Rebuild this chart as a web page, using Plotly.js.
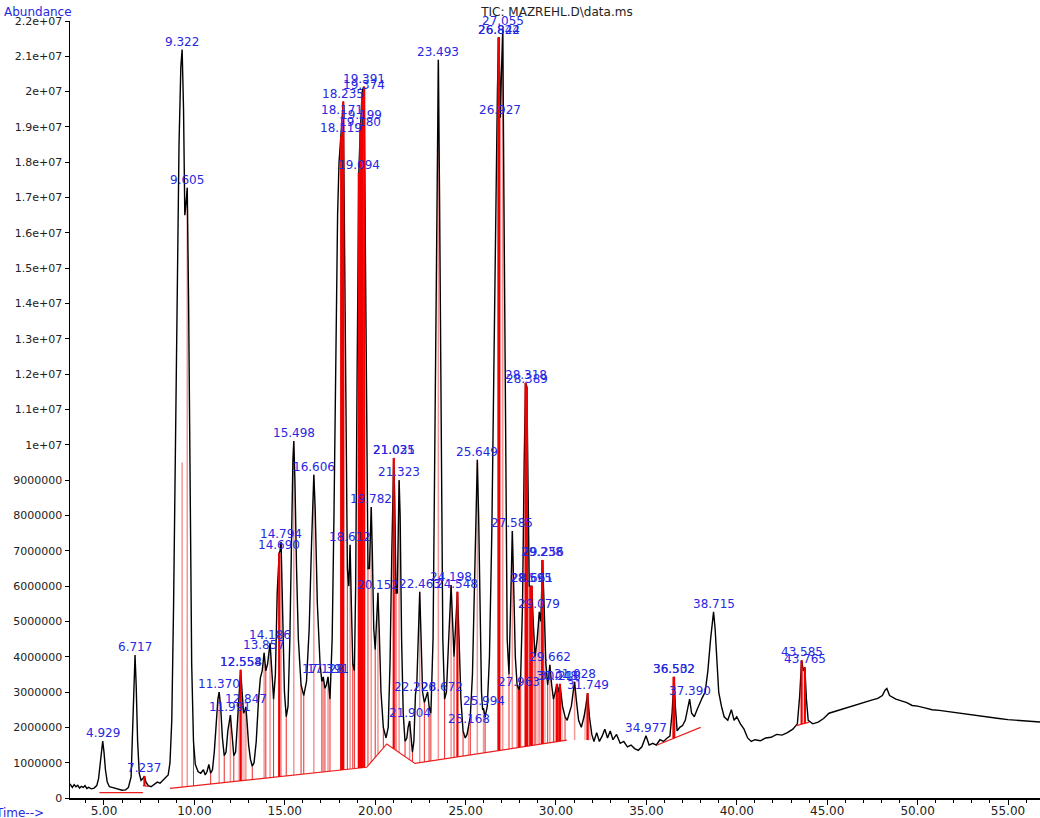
<!DOCTYPE html>
<html>
<head>
<meta charset="utf-8">
<script src="https://cdn.plot.ly/plotly-3.0.1.min.js"></script>
<style>
html,body{margin:0;padding:0;background:#fff;}
#chart{width:1040px;height:818px;}
</style>
</head>
<body>
<div id="chart"></div>
<script>
// Retention time (min) and total ion current (abundance, millions)
const rtTime = [3.12,3.25,3.35,3.45,3.55,3.65,3.75,3.85,3.95,4.05,4.15,4.30,4.45,4.60,4.70,4.80,4.88,4.929,5.00,5.08,5.18,5.30,5.45,5.60,5.80,6.00,6.20,6.35,6.50,6.60,6.68,6.717,6.78,6.86,6.95,7.05,7.15,7.237,7.32,7.45,7.60,7.80,7.95,8.10,8.25,8.40,8.55,8.65,8.75,8.85,8.95,9.05,9.15,9.25,9.322,9.40,9.47,9.53,9.605,9.68,9.76,9.85,9.95,10.05,10.20,10.35,10.50,10.60,10.70,10.80,10.90,11.00,11.10,11.22,11.30,11.370,11.45,11.55,11.65,11.75,11.85,11.991,12.08,12.18,12.28,12.40,12.50,12.558,12.64,12.72,12.80,12.847,12.92,13.00,13.10,13.20,13.30,13.42,13.55,13.65,13.75,13.857,13.95,14.05,14.186,14.28,14.38,14.48,14.58,14.690,14.74,14.794,14.88,14.98,15.08,15.18,15.28,15.38,15.45,15.498,15.56,15.65,15.75,15.90,16.05,16.20,16.35,16.48,16.55,16.606,16.68,16.80,16.95,17.05,17.128,17.22,17.30,17.391,17.50,17.62,17.72,17.82,17.92,18.00,18.06,18.119,18.171,18.235,18.30,18.38,18.46,18.54,18.612,18.68,18.76,18.85,18.92,19.00,19.05,19.094,19.14,19.180,19.199,19.274,19.33,19.391,19.45,19.52,19.60,19.68,19.74,19.782,19.84,19.92,20.00,20.08,20.152,20.22,20.32,20.45,20.60,20.72,20.82,20.92,20.98,21.025,21.08,21.15,21.22,21.28,21.323,21.38,21.46,21.55,21.65,21.75,21.82,21.904,21.98,22.06,22.14,22.226,22.30,22.38,22.463,22.54,22.62,22.72,22.82,22.90,22.98,23.08,23.20,23.30,23.40,23.493,23.56,23.64,23.74,23.84,23.94,24.04,24.12,24.198,24.28,24.36,24.44,24.548,24.64,24.74,24.86,24.98,25.08,25.168,25.26,25.38,25.50,25.58,25.649,25.72,25.80,25.88,25.94,25.994,26.08,26.20,26.32,26.45,26.56,26.66,26.76,26.822,26.844,26.88,26.927,26.98,27.055,27.12,27.20,27.30,27.40,27.48,27.54,27.585,27.66,27.75,27.85,27.963,28.05,28.15,28.24,28.318,28.389,28.45,28.52,28.595,28.661,28.74,28.84,28.96,29.079,29.16,29.238,29.256,29.34,29.44,29.54,29.662,29.76,29.86,29.96,30.048,30.14,30.218,30.36,30.50,30.62,30.74,30.85,30.95,31.028,31.12,31.25,31.40,31.55,31.65,31.749,31.85,31.98,32.10,32.25,32.40,32.55,32.70,32.85,33.00,33.15,33.35,33.55,33.75,33.95,34.15,34.35,34.55,34.75,34.977,35.15,35.35,35.55,35.75,35.95,36.15,36.30,36.42,36.502,36.532,36.60,36.70,36.85,37.00,37.15,37.25,37.390,37.50,37.65,37.80,37.95,38.10,38.25,38.40,38.55,38.65,38.715,38.80,38.90,39.00,39.15,39.30,39.50,39.70,39.85,40.00,40.20,40.40,40.60,40.80,41.00,41.30,41.60,41.90,42.20,42.50,42.80,43.10,43.35,43.48,43.585,43.68,43.765,43.85,43.95,44.20,44.50,44.80,45.10,45.40,45.70,46.00,46.30,46.60,46.90,47.20,47.50,47.80,48.05,48.20,48.30,48.45,48.60,48.80,49.10,49.40,49.70,50.00,50.40,50.80,51.20,51.60,52.00,52.50,53.00,53.50,54.00,54.50,55.00,55.50,56.00,56.77];
const ticAbund = [0.40,0.30,0.38,0.32,0.36,0.28,0.33,0.30,0.35,0.27,0.30,0.26,0.28,0.35,0.55,1.05,1.50,1.61,1.30,0.80,0.45,0.32,0.30,0.28,0.24,0.22,0.23,0.30,0.60,2.00,3.60,4.05,3.20,1.60,0.70,0.50,0.55,0.62,0.45,0.35,0.32,0.40,0.45,0.42,0.50,0.55,0.65,1.00,2.20,5.50,10.0,14.5,18.5,20.7,21.19,19.5,16.5,16.8,17.28,14.0,8.5,3.8,1.6,0.95,0.75,0.70,0.80,0.65,0.75,0.95,0.70,0.80,1.30,2.30,2.80,3.00,2.60,1.70,1.20,1.30,1.90,2.35,1.80,1.20,1.30,2.30,3.30,3.63,3.00,2.40,2.50,2.58,2.10,1.50,1.10,0.90,1.00,1.60,2.80,3.40,3.60,4.11,3.60,3.80,4.39,3.50,2.80,3.50,5.80,6.94,7.00,7.25,5.50,3.00,2.30,2.60,4.50,8.00,9.60,10.11,9.00,6.50,4.50,3.20,2.90,3.30,4.80,7.20,8.60,9.15,8.20,5.50,3.80,3.30,3.43,3.10,3.20,3.43,2.80,4.50,8.00,13.0,16.5,18.0,18.5,18.73,19.26,19.72,16.0,10.0,6.50,6.00,7.17,5.50,3.80,3.60,6.00,12.0,15.5,17.7,18.4,18.9,19.12,19.97,20.1,20.14,16.0,10.0,6.50,6.50,7.80,8.24,7.00,4.80,4.20,5.00,5.81,4.80,3.00,2.00,1.70,2.00,3.80,7.00,9.00,9.63,8.50,5.80,5.80,8.00,9.00,8.00,4.50,2.40,1.60,1.70,2.00,2.18,1.80,1.30,1.60,2.92,3.20,4.80,5.84,4.50,3.00,2.70,2.90,3.00,2.60,2.40,4.50,10.0,17.5,20.9,17.0,10.0,4.50,2.80,3.00,4.20,5.40,6.03,5.00,4.00,4.80,5.84,4.50,2.80,1.90,1.70,1.80,2.01,2.30,3.50,6.50,8.80,9.58,8.00,5.00,3.00,2.50,2.52,2.30,2.60,4.00,7.50,12.0,16.5,20.0,21.53,21.53,20.6,19.26,20.5,21.78,17.0,10.0,4.50,3.50,5.50,7.00,7.56,6.00,4.00,3.20,3.06,3.50,5.50,9.50,11.76,11.64,8.50,6.00,6.00,6.00,5.00,4.00,4.50,5.27,5.00,6.74,6.74,5.50,3.80,3.20,3.77,3.20,2.80,3.00,3.23,3.00,3.23,2.60,2.30,2.20,2.40,2.60,3.00,3.29,2.80,2.20,2.00,2.30,2.60,2.97,2.30,1.80,1.60,1.85,1.60,1.75,1.95,1.70,1.90,1.65,1.80,1.55,1.60,1.45,1.50,1.40,1.35,1.45,1.76,1.50,1.55,1.50,1.65,1.60,1.70,1.75,2.40,3.43,3.43,2.60,1.90,2.00,2.05,2.20,2.50,2.80,2.40,2.30,2.50,2.70,2.85,3.00,3.60,4.50,5.10,5.27,4.80,3.80,3.00,2.60,2.30,2.20,2.50,2.20,2.30,2.10,1.95,1.70,1.60,1.65,1.62,1.70,1.72,1.80,1.78,1.85,1.95,2.10,2.90,3.90,3.60,3.70,2.80,2.20,2.10,2.15,2.25,2.40,2.45,2.50,2.55,2.60,2.65,2.70,2.75,2.78,2.82,2.90,3.05,3.10,2.90,2.85,2.80,2.75,2.70,2.62,2.60,2.55,2.50,2.48,2.45,2.42,2.38,2.35,2.32,2.28,2.25,2.22,2.20,2.18,2.15];

// Peak labels (retention time text) and the abundance at which each is printed
const labelText = ['4.929','6.717','7.237','9.322','9.605','11.370','11.991','12.554','12.558','12.847','13.857','14.186','14.690','14.794','15.498','16.606','17.128','17.391','18.119','18.171','18.235','18.612','19.094','19.180','19.199','19.374','19.391','19.782','20.152','21.025','21.031','21.323','21.904','22.226','23.672','22.463','23.493','24.198','24.548','25.168','25.649','25.994','26.822','26.844','26.927','27.055','27.585','27.963','28.318','28.389','28.595','28.661','29.079','29.238','29.256','29.662','30.048','30.218','31.028','31.749','34.977','36.502','36.532','37.390','38.715','43.585','43.765'];
const labelTime = [4.929,6.717,7.237,9.322,9.605,11.370,11.991,12.554,12.558,12.847,13.857,14.186,14.690,14.794,15.498,16.606,17.128,17.391,18.119,18.171,18.235,18.612,19.094,19.180,19.199,19.374,19.391,19.782,20.152,21.025,21.031,21.323,21.904,22.226,23.672,22.463,23.493,24.198,24.548,25.168,25.649,25.994,26.822,26.844,26.927,27.055,27.585,27.963,28.318,28.389,28.595,28.661,29.079,29.238,29.256,29.662,30.048,30.218,31.028,31.749,34.977,36.502,36.532,37.390,38.715,43.585,43.765];
const labelHeight = [1.61,4.05,0.62,21.19,17.28,3.00,2.35,3.63,3.63,2.58,4.11,4.39,6.94,7.25,10.11,9.15,3.43,3.43,18.73,19.26,19.72,7.17,17.7,18.9,19.12,19.97,20.14,8.24,5.81,9.63,9.63,9.00,2.18,2.92,2.92,5.84,20.9,6.03,5.84,2.01,9.58,2.52,21.53,21.53,19.26,21.78,7.56,3.06,11.76,11.64,6.00,6.00,5.27,6.74,6.74,3.77,3.23,3.23,3.29,2.97,1.76,3.43,3.43,2.80,5.27,3.90,3.70];

// Integration baseline segments (null separates segments)
const baseTime  = [4.75,7.15,null,7.15,7.45,null,8.65,19.53,20.64,22.20,30.60,null,35.60,38.00,null,43.30,44.00];
const baseLevel = [0.15,0.15,null,0.35,0.33,null,0.27,0.87,1.53,0.98,1.64,null,1.50,2.00,null,2.05,2.15];

// Integrated peaks drawn with strong red markers
const redTime   = [7.237,12.558,14.690,18.119,18.171,18.235,19.094,19.180,19.199,19.274,19.391,21.025,24.548,26.822,26.844,27.963,28.318,28.389,28.595,28.661,29.238,29.256,30.048,30.218,31.749,36.502,36.532,43.585,43.765];
const redHeight = [0.62,3.63,6.94,18.73,19.26,19.72,17.7,18.9,19.12,19.97,20.14,9.63,5.84,21.53,21.53,3.06,11.76,11.64,6.00,6.00,6.74,6.74,3.23,3.23,2.97,3.43,3.43,3.90,3.70];
// Integrated peaks drawn with pale markers
const paleTime   = [9.322,9.605,11.370,11.991,12.847,13.857,14.186,14.794,15.498,16.606,17.128,17.391,18.612,19.782,20.152,21.323,21.904,22.463,23.493,24.198,25.168,25.649,25.994,26.927,27.055,27.585,29.079,29.662,31.028];
const paleHeight = [9.5,17.28,3.00,2.35,2.58,4.11,4.39,7.25,10.11,9.15,3.43,3.43,7.17,8.24,5.81,9.00,2.18,5.84,20.9,6.03,2.01,9.58,2.52,19.26,21.78,7.56,5.27,3.77,3.29];
// Valley drop lines
const dropTime   = [9.95,10.90,11.65,12.18,13.20,13.95,14.38,15.08,15.90,16.05,17.05,17.22,17.50,18.46,18.76,18.85,19.60,20.00,20.45,21.15,21.65,22.06,22.72,22.98,23.08,23.84,24.36,24.86,25.26,26.08,27.40,27.85,28.05,28.52,28.84,29.54,29.86,30.14,30.50];
const dropHeight = [1.60,0.70,1.20,1.20,0.90,3.60,2.80,2.30,3.20,2.90,3.30,3.10,2.80,6.50,3.80,3.60,6.50,4.20,2.00,5.80,1.60,1.30,2.70,2.60,2.40,2.80,4.00,1.90,2.30,2.30,3.50,3.20,3.50,6.00,4.00,3.20,2.80,3.00,2.30];
// Shaded integrated areas (start, end retention time)
const shadeStart = [12.40,28.45,29.86,31.55,36.42];
const shadeEnd   = [12.80,29.45,30.40,31.95,36.62];

// Axis tick labels
const yTickVals = [0,1,2,3,4,5,6,7,8,9,10,11,12,13,14,15,16,17,18,19,20,21,22];
const yTickText = ['0','1000000','2000000','3000000','4000000','5000000','6000000','7000000','8000000','9000000','1e+07','1.1e+07','1.2e+07','1.3e+07','1.4e+07','1.5e+07','1.6e+07','1.7e+07','1.8e+07','1.9e+07','2e+07','2.1e+07','2.2e+07'];
const xTickVals = [5,10,15,20,25,30,35,40,45,50,55];
const xTickText = ['5.00','10.00','15.00','20.00','25.00','30.00','35.00','40.00','45.00','50.00','55.00'];

function baselineAt(t){
  for(let i=0;i<baseTime.length-1;i++){
    const a=baseTime[i], b=baseTime[i+1];
    if(a===null||b===null) continue;
    if(t>=a && t<=b){
      const f=(t-a)/(b-a);
      return baseLevel[i]+f*(baseLevel[i+1]-baseLevel[i]);
    }
  }
  let best=null, bd=1e9;
  for(let i=0;i<baseTime.length;i++){
    if(baseTime[i]===null) continue;
    const d=Math.abs(baseTime[i]-t);
    if(d<bd){bd=d;best=baseLevel[i];}
  }
  return best;
}
function verticals(times, heights){
  const x=[], y=[];
  times.forEach((t,i)=>{ x.push(t,t,null); y.push(baselineAt(t),heights[i],null); });
  return {x,y};
}
function shadePolys(){
  const x=[], y=[];
  shadeStart.forEach((s,k)=>{
    const e=shadeEnd[k];
    const px=[], py=[];
    rtTime.forEach((t,i)=>{ if(t>=s && t<=e){ px.push(t); py.push(ticAbund[i]); } });
    px.push(e, s); py.push(baselineAt(e), baselineAt(s));
    px.push(px[0]); py.push(py[0]);
    x.push(...px, null); y.push(...py, null);
  });
  return {x,y};
}

const pale = verticals(paleTime, paleHeight);
const drops = verticals(dropTime, dropHeight);
const reds = verticals(redTime, redHeight);
const shade = shadePolys();

const traces = [
  {x: shade.x, y: shade.y, mode:'lines', fill:'toself', fillcolor:'rgba(242,140,140,0.55)', line:{width:0, color:'rgba(0,0,0,0)'}, hoverinfo:'skip'},
  {x: pale.x, y: pale.y, mode:'lines', line:{color:'rgb(245,150,150)', width:1.5}, hoverinfo:'skip'},
  {x: drops.x, y: drops.y, mode:'lines', line:{color:'rgb(235,40,40)', width:1}, hoverinfo:'skip'},
  {x: rtTime, y: ticAbund, mode:'lines', line:{color:'#000', width:1.4}, hoverinfo:'skip'},
  {x: baseTime, y: baseLevel, mode:'lines', line:{color:'rgb(235,30,30)', width:1.2}, connectgaps:false, hoverinfo:'skip'},
  {x: reds.x, y: reds.y, mode:'lines', line:{color:'rgb(240,0,0)', width:2.2}, hoverinfo:'skip'}
];

const annotations = labelText.map((txt,i)=>({
  x: labelTime[i], y: labelHeight[i], xref:'x', yref:'y', text: txt, showarrow:false,
  xanchor:'center', yanchor:'bottom', yshift:-1,
  font:{family:'DejaVu Sans', size:12, color:'rgb(40,40,225)'}
}));
annotations.push({xref:'paper', yref:'y', x:0, y:22, xanchor:'right', yanchor:'middle', xshift:4, yshift:9, text:'Abundance', showarrow:false, font:{family:'DejaVu Sans', size:12, color:'rgb(40,40,225)'}});
annotations.push({xref:'paper', yref:'paper', x:0, y:0, xanchor:'right', yanchor:'top', xshift:-24, yshift:-6, text:'Time-->', showarrow:false, font:{family:'DejaVu Sans', size:12, color:'rgb(40,40,225)'}});

const layout = {
  width:1040, height:818,
  margin:{l:70, r:0, t:21, b:20},
  paper_bgcolor:'#fff', plot_bgcolor:'#fff',
  showlegend:false,
  title:{text:'TIC: MAZREHL.D\\data.ms', font:{family:'DejaVu Sans', size:12, color:'#222'}, x:0.502, xref:'paper', xanchor:'center', y:0.9853, yref:'container', yanchor:'middle'},
  xaxis:{range:[3.12,56.77], showgrid:false, zeroline:false, showline:true, linecolor:'#000', linewidth:1.5,
    ticks:'outside', ticklen:5, tickcolor:'#000', tickvals:xTickVals, ticktext:xTickText, ticklabelstandoff:-4,
    minor:{dtick:1, tick0:0, ticks:'outside', ticklen:3, tickcolor:'#000'},
    tickfont:{family:'DejaVu Sans', size:12, color:'#222'}},
  yaxis:{range:[0,22], showgrid:false, zeroline:false, showline:true, linecolor:'#000', linewidth:1.5,
    ticks:'outside', ticklen:4, tickcolor:'#000', tickvals:yTickVals, ticktext:yTickText,
    tickfont:{family:'DejaVu Sans', size:11, color:'#222'}},
  annotations: annotations
};

Plotly.newPlot('chart', traces, layout, {staticPlot:true, displayModeBar:false});
</script>
</body>
</html>
